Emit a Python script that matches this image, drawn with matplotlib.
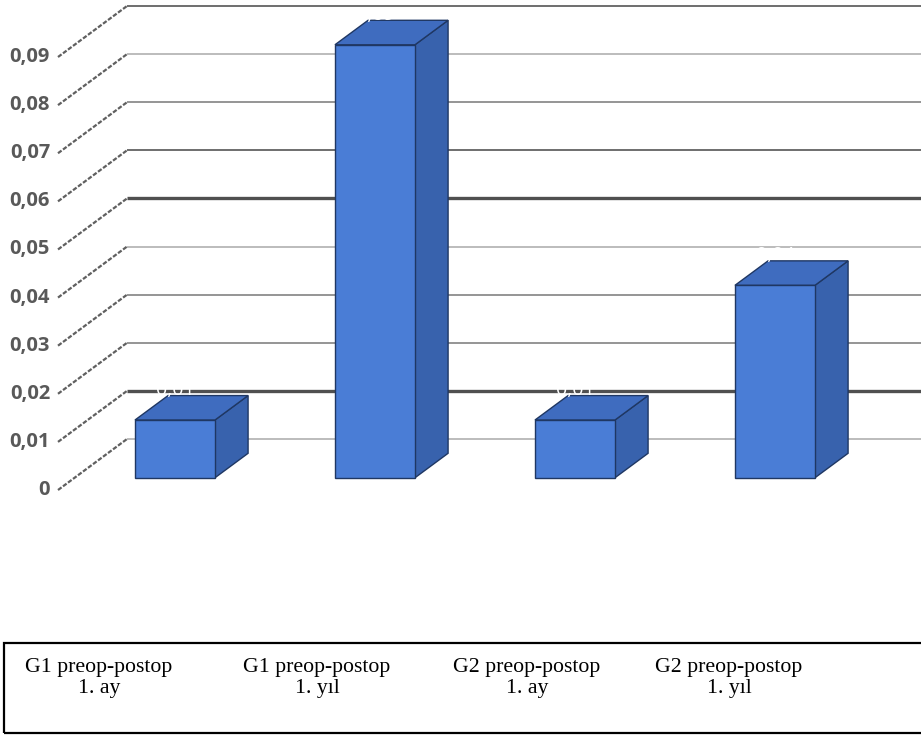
import matplotlib.pyplot as plt
from matplotlib.patches import Polygon, Rectangle

# chart data
categories = ['G1 preop-postop\n1. ay', 'G1 preop-postop\n1. yıl',
              'G2 preop-postop\n1. ay', 'G2 preop-postop\n1. yıl']
values = [0.012, 0.090, 0.012, 0.040]
value_labels = ['0,01', '0,09', '0,01', '0,04']
ticks = [0, 0.01, 0.02, 0.03, 0.04, 0.05, 0.06, 0.07, 0.08, 0.09]
tick_labels = ['0', '0,01', '0,02', '0,03', '0,04', '0,05', '0,06', '0,07', '0,08', '0,09']

# pseudo 3d projection (depth z goes 0 front -> 1 back)
DX, DY = 0.345, 0.0106
WALL_X = -0.502
BAR_W = 0.4
Z0, Z1 = 0.24, 0.72

# gridline look (the scaled excel picture makes some heavier than others)
grid_colors = ['#b0b0b0', '#505050', '#8c8c8c', '#8c8c8c', '#b0b0b0',
               '#505050', '#6e6e6e', '#8c8c8c', '#b0b0b0', '#6e6e6e']
grid_widths = [1.2, 2.4, 1.3, 1.3, 1.2, 2.4, 1.4, 1.3, 1.2, 1.4]

FRONT = '#4a7dd6'
TOP = '#3f6cbf'
SIDE = '#3862ad'
EDGE = '#1f3763'


def proj(x, y, z):
    return (x + z * DX, y + z * DY)


fig = plt.figure(figsize=(9.21, 7.35), dpi=100)
ax = fig.add_axes([0, 0, 1, 1])
ax.set_xlim(-0.792, 3.813)
ax.set_ylim(-0.05092, 0.10185)
ax.axis('off')

# back wall gridlines + side wall lines + tick labels
for t, lab, c, w in zip(ticks, tick_labels, grid_colors, grid_widths):
    bx, by = proj(WALL_X, t, 1)
    ax.plot([bx, 4.0], [by, by], color=c, lw=w, zorder=1, solid_capstyle='butt')
    fx, fy = proj(WALL_X, t, 0)
    ax.plot([fx, bx], [fy, by], color='#606060', lw=1.6, ls=(0, (2, 0.8)), zorder=1)
    ax.text(fx - 0.04, fy, lab, ha='right', va='center', fontsize=14.5,
            fontweight='bold', color='#595959', family='Open Sans')

# bars
for i, v in enumerate(values):
    x0, x1 = i - BAR_W / 2, i + BAR_W / 2
    front = [proj(x0, 0, Z0), proj(x1, 0, Z0), proj(x1, v, Z0), proj(x0, v, Z0)]
    side = [proj(x1, 0, Z0), proj(x1, 0, Z1), proj(x1, v, Z1), proj(x1, v, Z0)]
    top = [proj(x0, v, Z0), proj(x1, v, Z0), proj(x1, v, Z1), proj(x0, v, Z1)]
    for pts, col in [(side, SIDE), (top, TOP), (front, FRONT)]:
        ax.add_patch(Polygon(pts, closed=True, facecolor=col, edgecolor=EDGE,
                             lw=1.0, zorder=3))
    lx, _ = proj(i, v, Z0)
    _, ly = proj(i, v, Z1)
    ax.text(lx, ly + 0.0012, value_labels[i], ha='center', va='center',
            fontsize=14, color='white', family='Open Sans', zorder=5)

# category box under the chart
W, H = 921, 735
box = Rectangle((4 / W, 2 / H), 1.2, (733 - 643) / H, transform=fig.transFigure,
                fill=False, edgecolor='black', lw=1.6, clip_on=False)
fig.patches.append(box)

label_x = [99, 317, 527, 729]
for cx, cat in zip(label_x, categories):
    for k, line in enumerate(cat.split('\n')):
        base = 672 + k * 21
        fig.text(cx / W, 1 - base / H, line, ha='center', va='baseline',
                 fontsize=15.7, family='Liberation Serif', color='black')

fig.savefig('out.png', dpi=100)
